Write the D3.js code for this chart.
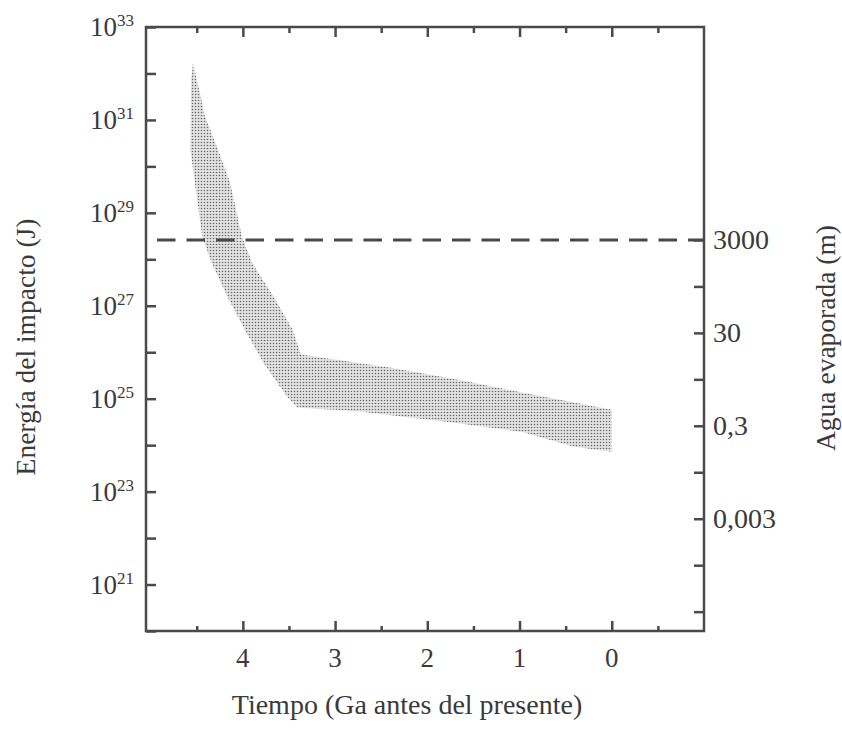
<!DOCTYPE html>
<html lang="es">
<head>
  <meta charset="utf-8">
  <title>Energía del impacto</title>
  <script src="https://d3js.org/d3.v7.min.js"></script>
  <style>
    body { margin: 0; background: #fff; }
    #chart text { font-family: "Liberation Serif", "DejaVu Serif", serif; fill: #3a3a3a; }
    #chart .tick line { stroke: #4a4a4a; stroke-width: 2.5; }
  </style>
</head>
<body>
<div id="chart"></div>
<script>
"use strict"

// borde superior de la banda: tiempo (Ga antes del presente) y energia (J)
var tiempoSup  = [4.54, 4.41, 4.27, 4.14, 4.01, 3.90, 3.67, 3.46, 3.37, 2.41, 1.68, 0.96, 0.0];
var energiaSup = [1.7e32, 1.2e31, 2.3e30, 4.6e29, 3.1e28, 8.5e27, 1.6e27, 3.1e26, 8.9e25, 4.7e25, 2.6e25, 1.35e25, 5.8e24];

// borde inferior de la banda
var tiempoInf  = [4.56, 4.57, 4.44, 4.34, 4.17, 3.98, 3.78, 3.52, 3.41, 2.76, 1.68, 0.96, 0.42, 0.0];
var energiaInf = [7.4e31, 2.3e30, 3.1e28, 8.5e27, 1.6e27, 3.1e26, 6.0e25, 1.1e25, 6.5e24, 5.4e24, 3.0e24, 1.9e24, 9.3e23, 7.2e23];

// ejes
var ticksTiempo = [4, 3, 2, 1, 0];
var ticksTiempoMenores = [4.5, 3.5, 2.5, 1.5, 0.5, -0.5];
var exponentesEnergia = [20, 21, 22, 23, 24, 25, 26, 27, 28, 29, 30, 31, 32, 33];
var exponentesEtiqueta = [21, 23, 25, 27, 29, 31, 33];
var ticksAgua = [3e-5, 3e-4, 3e-3, 3e-2, 0.3, 3, 30, 300, 3000];
var etiquetasAgua = [3000, 30, 0.3, 0.003];
var textoAgua = ["3000", "30", "0,3", "0,003"];
var aguaPorJoule = 1.15e-25;   // metros de agua evaporada por julio
var aguaLimite = 3000;         // linea discontinua

var larguraSVG = 842, alturaSVG = 731;
var margin = {top: 27, right: 138, bottom: 100, left: 146};
var larguraVis = larguraSVG - margin.left - margin.right,
    alturaVis = alturaSVG - margin.top - margin.bottom;

var x = d3.scaleLinear().domain([5.05, -1]).range([0, larguraVis]);
var y = d3.scaleLog().domain([1e20, 1e33]).range([alturaVis, 0]);
var yAgua = d3.scaleLog().domain([1e20 * aguaPorJoule, 1e33 * aguaPorJoule]).range([alturaVis, 0]);

var svg = d3.select('#chart').append('svg')
    .attr('width', larguraSVG)
    .attr('height', alturaSVG);

// punteado de la banda
var defs = svg.append('defs');
var pat = defs.append('pattern')
    .attr('id', 'punteado')
    .attr('patternUnits', 'userSpaceOnUse')
    .attr('width', 3).attr('height', 3);
pat.append('rect').attr('width', 3).attr('height', 3).attr('fill', '#e3e3e3');
pat.append('circle').attr('cx', 1.5).attr('cy', 1.5).attr('r', 0.8).attr('fill', '#6a6a6a');

var g = svg.append('g')
    .attr('transform', 'translate(' + margin.left + ',' + margin.top + ')');

// banda: borde superior y luego inferior al reves
var puntos = tiempoSup.map((t, i) => ({t: t, e: energiaSup[i]}))
    .concat(tiempoInf.map((t, i) => ({t: t, e: energiaInf[i]})).reverse());

var linea = d3.line().x(d => x(d.t)).y(d => y(d.e));

g.append('path')
    .attr('d', linea(puntos) + 'Z')
    .attr('fill', 'url(#punteado)')
    .attr('stroke', 'none');

// linea discontinua (3000 m)
g.append('line')
    .attr('x1', 0).attr('x2', larguraVis)
    .attr('y1', yAgua(aguaLimite)).attr('y2', yAgua(aguaLimite))
    .attr('stroke', '#484848')
    .attr('stroke-width', 3)
    .attr('stroke-dasharray', '18.5,11')
    .attr('stroke-dashoffset', 18.5);

// eje izquierdo
g.append('g')
    .call(d3.axisLeft(y).tickValues(exponentesEnergia.map(n => Math.pow(10, n))).tickSize(-10).tickFormat(''))
    .call(e => e.select('.domain').remove());

var etq = g.selectAll('.etqEnergia')
    .data(exponentesEtiqueta)
    .enter()
    .append('text')
      .attr('class', 'etqEnergia')
      .attr('x', -56)
      .attr('y', d => y(Math.pow(10, d)) + 9)
      .style('font-size', '27px');
etq.append('tspan').text('10');
etq.append('tspan').attr('dy', -10).style('font-size', '17px').text(d => d);

// eje derecho
g.append('g')
    .attr('transform', 'translate(' + larguraVis + ',0)')
    .call(d3.axisRight(yAgua).tickValues(ticksAgua).tickSize(-10).tickFormat(''))
    .call(e => e.select('.domain').remove());

g.selectAll('.etqAgua')
    .data(etiquetasAgua)
    .enter()
    .append('text')
      .attr('class', 'etqAgua')
      .attr('x', larguraVis + 9)
      .attr('y', d => yAgua(d))
      .attr('dy', '0.33em')
      .style('font-size', '28px')
      .text((d, i) => textoAgua[i]);

// ejes inferior y superior
g.append('g')
    .attr('transform', 'translate(0,' + alturaVis + ')')
    .call(d3.axisBottom(x).tickValues(ticksTiempo).tickSize(-10).tickFormat(''))
    .call(e => e.select('.domain').remove());
g.append('g')
    .attr('transform', 'translate(0,' + alturaVis + ')')
    .call(d3.axisBottom(x).tickValues(ticksTiempoMenores).tickSize(-5).tickFormat(''))
    .call(e => e.select('.domain').remove());
g.append('g')
    .call(d3.axisTop(x).tickValues(ticksTiempo).tickSize(-10).tickFormat(''))
    .call(e => e.select('.domain').remove());
g.append('g')
    .call(d3.axisTop(x).tickValues(ticksTiempoMenores).tickSize(-6).tickFormat(''))
    .call(e => e.select('.domain').remove());

g.selectAll('.etqTiempo')
    .data(ticksTiempo)
    .enter()
    .append('text')
      .attr('class', 'etqTiempo')
      .attr('x', d => x(d))
      .attr('y', alturaVis + 36)
      .attr('text-anchor', 'middle')
      .style('font-size', '27px')
      .text(d => d);

// marco
g.append('rect')
    .attr('width', larguraVis)
    .attr('height', alturaVis)
    .attr('fill', 'none')
    .attr('stroke', '#4a4a4a')
    .attr('stroke-width', 2.5);

// titulos
g.append('text')
    .attr('x', larguraVis / 2 - 18)
    .attr('y', alturaVis + 83)
    .attr('text-anchor', 'middle')
    .style('font-size', '28px')
    .text('Tiempo (Ga antes del presente)');

g.append('text')
    .attr('transform', 'translate(' + (-111) + ',' + (alturaVis / 2 + 18) + ') rotate(-90)')
    .attr('text-anchor', 'middle')
    .style('font-size', '27.5px')
    .text('Energía del impacto (J)');

g.append('text')
    .attr('transform', 'translate(' + (larguraVis + 131) + ',' + (alturaVis / 2 + 9) + ') rotate(-90)')
    .attr('text-anchor', 'middle')
    .style('font-size', '27.5px')
    .text('Agua evaporada (m)');
</script>
</body>
</html>
